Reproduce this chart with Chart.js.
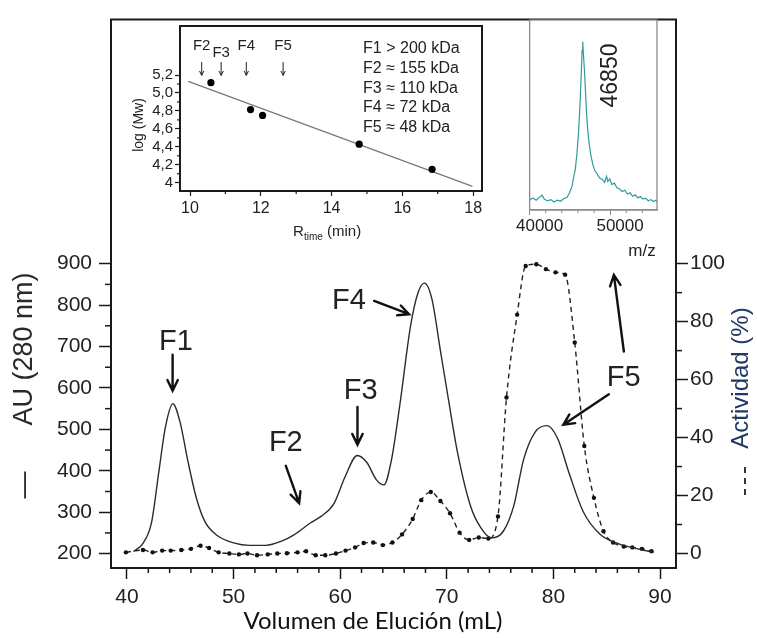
<!DOCTYPE html>
<html>
<head>
<meta charset="utf-8">
<script src="https://cdn.jsdelivr.net/npm/chart.js@4.4.0/dist/chart.umd.min.js"></script>
<style>
  html, body { margin: 0; padding: 0; background: #fff; }
  #wrap { position: relative; width: 757px; height: 638px; }
  canvas { position: absolute; }
  #main { left: 0; top: 0; }
  #cal { left: 120px; top: 15px; }
  #ms { left: 505px; top: 10px; }
</style>
</head>
<body>
<div id="wrap">
  <canvas id="main" width="757" height="638"></canvas>
  <canvas id="cal" width="370" height="230"></canvas>
  <canvas id="ms" width="170" height="255"></canvas>
</div>
<script>
// ---- elution profile (main chart) ----
const volAU = [40.6, 41.5, 42.3, 43.0, 43.6, 44.3, 45.0, 45.7, 46.5, 47.3, 48.5, 50.0, 51.5, 53.0, 54.5, 55.7, 57.2, 58.2, 59.4, 60.5,
               61.6, 62.5, 63.4, 64.1, 64.8, 65.6, 66.6, 67.3, 67.9, 68.6, 69.4, 70.2, 71.0, 72.2, 73.2, 74.2, 75.3, 76.3, 77.2, 78.3,
               79.4, 80.4, 81.5, 82.8, 84.4, 86.2, 88.0, 89.4];
const absAU = [205, 225, 275, 400, 505, 562, 515, 425, 335, 278, 243, 226, 220, 220, 230, 246, 274, 290, 320, 388,
               437, 420, 378, 366, 425, 560, 750, 830, 853, 815, 690, 565, 445, 317, 262, 238, 254, 317, 427, 494,
               509, 478, 392, 301, 246, 223, 211, 203];

const volAct = [39.9, 41.5, 42.4, 43.3, 44.1, 45.1, 46.0, 46.9, 47.7, 48.6, 49.6, 50.5, 51.3, 52.2, 53.2, 54.1, 55.0, 56.0, 56.8, 57.7,
                58.6, 59.6, 60.5, 61.4, 62.2, 63.1, 64.0, 64.9, 65.8, 66.8, 67.6, 68.5, 69.4, 70.3, 71.2, 72.1, 73.0, 73.9, 74.8, 75.6,
                76.6, 77.4, 78.4, 79.3, 80.2, 81.1, 82.0, 82.9, 83.8, 84.7, 85.6, 86.6, 87.4, 88.3, 89.2];
const activity = [0.4, 1.2, 0.4, 1.0, 1.0, 1.2, 1.6, 2.7, 1.9, 0.4, 0.0, -0.3, 0.0, -0.6, -0.3, 0.0, 0.1, 0.4, 0.8, -0.6,
                  -0.6, 0.0, 1.0, 2.1, 3.6, 3.8, 2.9, 3.8, 6.6, 11.9, 18.4, 21.2, 18.1, 13.9, 7.2, 4.7, 5.5, 5.2, 12.8, 53.8,
                  82.4, 99.2, 99.8, 98.1, 97.0, 96.2, 72.8, 37.1, 19.2, 7.7, 3.8, 2.4, 2.1, 1.6, 0.8];

const volTicks = [40, 50, 60, 70, 80, 90];
const volMinor = [42, 44, 46, 48, 52, 54, 56, 58, 62, 64, 66, 68, 72, 74, 76, 78, 82, 84, 86, 88];
const auTicks = [200, 300, 400, 500, 600, 700, 800, 900];
const auMinor = [250, 350, 450, 550, 650, 750, 850];
const actTicks = [0, 20, 40, 60, 80, 100];
const actMinor = [10, 30, 50, 70, 90];

// ---- calibration inset ----
const rtStd = [10.59, 11.71, 12.05, 14.78, 16.84];
const logMwStd = [5.115, 4.815, 4.75, 4.43, 4.15];
const rtFit = [9.95, 17.98];
const logMwFit = [5.13, 3.96];
const rtTicks = [10, 12, 14, 16, 18];
const rtMinor = [11, 13, 15, 17];
const logTicks = [4, 4.2, 4.4, 4.6, 4.8, 5.0, 5.2];
const logMinor = [4.1, 4.3, 4.5, 4.7, 4.9, 5.1];
const fracNames = ['F2', 'F3', 'F4', 'F5'];
const fracRt = [10.33, 10.88, 11.59, 12.63];
const massLines = ['F1 > 200 kDa', 'F2 \u2248 155 kDa', 'F3 \u2248 110 kDa', 'F4 \u2248 72 kDa', 'F5 \u2248 48 kDa'];

// ---- mass spectrum inset ----
const mz = [40000, 40405, 40810, 41215, 41540, 41820, 42230, 42630, 43040, 43440, 43850, 44250, 44660, 44980, 45270, 45470, 45670, 45870,
            46080, 46280, 46440, 46520, 46600, 46680, 46800, 46930, 47090, 47250, 47410, 47610, 47860, 48100, 48380, 48710, 49030,
            49320, 49560, 49720, 49960, 50210, 50530, 50850, 51180, 51500, 51830, 52150, 52470, 52800, 53120, 53450, 53770, 54090,
            54420, 54740, 55070, 55390, 55710, 55800];
const intensity = [6.0, 7.2, 5.8, 7.5, 8.8, 6.5, 5.4, 6.2, 4.8, 5.9, 5.2, 6.8, 7.6, 10.5, 14.0, 19.5, 24.0, 33.0,
                   46.0, 65.0, 84.0, 95.0, 100, 93.0, 84.0, 72.0, 56.0, 46.0, 39.0, 32.5, 27.0, 23.5, 21.5, 19.0, 18.2,
                   16.5, 20.0, 17.0, 18.5, 15.2, 16.0, 13.2, 12.5, 11.0, 11.8, 9.5, 10.2, 8.2, 9.0, 7.2, 8.0, 6.5,
                   7.0, 5.5, 6.2, 5.0, 5.8, 5.2];
const mzTicks = [40000, 50000];
const mzMinor = [42000, 44000, 46000, 48000, 52000, 54000];

const FONT = "'Liberation Sans', Arial, sans-serif";
const INK = '#1a1a1a';

function pts(xs, ys) { return xs.map((x, i) => ({ x: x, y: ys[i] })); }

function drawMinor(ctx, scale, values, len, side, color, width) {
    ctx.save();
    ctx.strokeStyle = color;
    ctx.lineWidth = width;
    values.forEach(v => {
        const p = scale.getPixelForValue(v);
        ctx.beginPath();
        if (side === 'bottom') { ctx.moveTo(p, scale.top); ctx.lineTo(p, scale.top + len); }
        else if (side === 'left') { ctx.moveTo(scale.right, p); ctx.lineTo(scale.right - len, p); }
        else { ctx.moveTo(scale.left, p); ctx.lineTo(scale.left + len, p); }
        ctx.stroke();
    });
    ctx.restore();
}

function arrow(ctx, x1, y1, x2, y2, head, spread) {
    const a = Math.atan2(y2 - y1, x2 - x1);
    ctx.beginPath();
    ctx.moveTo(x1, y1);
    ctx.lineTo(x2, y2);
    ctx.moveTo(x2 - head * Math.cos(a - spread), y2 - head * Math.sin(a - spread));
    ctx.lineTo(x2, y2);
    ctx.lineTo(x2 - head * Math.cos(a + spread), y2 - head * Math.sin(a + spread));
    ctx.stroke();
}

function rotText(ctx, txt, x, y, font, color) {
    ctx.save();
    ctx.translate(x, y);
    ctx.rotate(-Math.PI / 2);
    ctx.font = font;
    ctx.fillStyle = color;
    ctx.textAlign = 'center';
    ctx.textBaseline = 'middle';
    ctx.fillText(txt, 0, 0);
    ctx.restore();
}

function fixedTicks(list) { return s => { s.ticks = list.map(v => ({ value: v })); }; }

// annotations of the main chart, in data units (mL, AU)
const mainNotes = {
    labels: [['F1', 44.59, 710], ['F2', 54.9, 467], ['F3', 61.93, 593], ['F4', 60.83, 810], ['F5', 86.6, 625]],
    arrows: [[44.28, 680, 44.28, 593], [54.9, 412, 56.15, 322], [61.62, 554, 61.62, 463],
             [63.18, 810, 66.46, 778], [85.2, 585, 80.93, 511], [86.61, 688, 85.67, 873]]
};

const mainDeco = {
    id: 'mainDeco',
    afterDraw(chart) {
        const { ctx, chartArea: ca, scales } = chart;
        ctx.save();
        // top frame
        ctx.strokeStyle = INK;
        ctx.lineWidth = 2;
        ctx.beginPath();
        ctx.moveTo(ca.left - 1, ca.top);
        ctx.lineTo(ca.right + 1, ca.top);
        ctx.stroke();

        drawMinor(ctx, scales.x, volMinor, 5, 'bottom', INK, 1.5);
        drawMinor(ctx, scales.y, auMinor, 6, 'left', INK, 1.5);
        drawMinor(ctx, scales.y2, actMinor, 6, 'right', INK, 1.5);

        // peak labels and arrows
        const X = v => scales.x.getPixelForValue(v);
        const Y = v => scales.y.getPixelForValue(v);
        ctx.fillStyle = '#222';
        ctx.font = '29px ' + FONT;
        ctx.textAlign = 'center';
        ctx.textBaseline = 'middle';
        mainNotes.labels.forEach(l => ctx.fillText(l[0], X(l[1]), Y(l[2])));
        ctx.strokeStyle = '#111';
        ctx.lineWidth = 2.4;
        ctx.lineCap = 'round';
        mainNotes.arrows.forEach(a => arrow(ctx, X(a[0]), Y(a[1]), X(a[2]), Y(a[3]), 12, 0.45));

        // axis titles
        rotText(ctx, 'AU (280 nm)', 25, 349, '27px ' + FONT, '#2a2a2a');
        rotText(ctx, '\u2014', 25, 485, '27px ' + FONT, '#2a2a2a');
        rotText(ctx, 'Actividad (%)', 741, 378, '24px ' + FONT, '#1f3864');
        ctx.strokeStyle = '#333';
        ctx.lineWidth = 2;
        ctx.lineCap = 'butt';
        ctx.setLineDash([6, 5]);
        ctx.beginPath();
        ctx.moveTo(745, 467);
        ctx.lineTo(745, 500);
        ctx.stroke();
        ctx.setLineDash([]);

        ctx.font = "24px Lato, 'Open Sans', sans-serif";
        ctx.fillStyle = '#111';
        ctx.textAlign = 'center';
        ctx.textBaseline = 'alphabetic';
        ctx.fillText('Volumen de Elución (mL)', 373, 629);
        ctx.restore();
    }
};

new Chart(document.getElementById('main'), {
    type: 'line',
    data: {
        datasets: [
            {
                label: 'AU (280 nm)',
                data: pts(volAU, absAU),
                yAxisID: 'y',
                borderColor: '#2b2b2b',
                borderWidth: 1.4,
                pointRadius: 0,
                cubicInterpolationMode: 'monotone'
            },
            {
                label: 'Actividad (%)',
                data: pts(volAct, activity),
                yAxisID: 'y2',
                borderColor: '#222',
                borderWidth: 1.4,
                borderDash: [5, 4],
                pointRadius: 2.2,
                pointBorderWidth: 0,
                pointBackgroundColor: '#111',
                cubicInterpolationMode: 'monotone'
            }
        ]
    },
    options: {
        responsive: false,
        animation: false,
        events: [],
        layout: { padding: { top: 7, left: 0, right: 0, bottom: 0 } },
        plugins: { legend: { display: false }, tooltip: { enabled: false } },
        scales: {
            x: {
                type: 'linear', min: 38.5, max: 91.5,
                afterBuildTicks: fixedTicks(volTicks),
                afterFit: s => { s.height = 70; },
                ticks: { font: { family: FONT, size: 21 }, color: '#222', padding: 6, maxRotation: 0, autoSkip: false },
                grid: { drawOnChartArea: false, tickLength: 11, tickWidth: 1.5, tickColor: INK },
                border: { color: INK, width: 2 }
            },
            y: {
                position: 'left', min: 165.3, max: 1489.3,
                afterBuildTicks: fixedTicks(auTicks),
                afterFit: s => { s.width = 111; },
                ticks: { font: { family: FONT, size: 21 }, color: '#222', padding: 7, autoSkip: false },
                grid: { drawOnChartArea: false, tickLength: 12, tickWidth: 1.5, tickColor: INK },
                border: { color: INK, width: 2 }
            },
            y2: {
                position: 'right', min: -5, max: 184.2,
                afterBuildTicks: fixedTicks(actTicks),
                afterFit: s => { s.width = 81; },
                ticks: { font: { family: FONT, size: 21 }, color: '#222', padding: 2, autoSkip: false },
                grid: { drawOnChartArea: false, tickLength: 12, tickWidth: 1.5, tickColor: INK },
                border: { color: INK, width: 2 }
            }
        }
    },
    plugins: [mainDeco]
});

// ---- calibration inset ----
const calDeco = {
    id: 'calDeco',
    beforeDraw(chart) {
        const { ctx, chartArea: ca } = chart;
        ctx.save();
        ctx.fillStyle = '#fff';
        ctx.fillRect(ca.left, ca.top, ca.right - ca.left, ca.bottom - ca.top);
        ctx.restore();
    },
    afterDraw(chart) {
        const { ctx, chartArea: ca, scales } = chart;
        ctx.save();
        ctx.strokeStyle = INK;
        ctx.lineWidth = 2;
        ctx.strokeRect(ca.left, ca.top, ca.right - ca.left, ca.bottom - ca.top);
        drawMinor(ctx, scales.x, rtMinor, 3, 'bottom', INK, 1.2);
        drawMinor(ctx, scales.y, logMinor, 3, 'left', INK, 1.2);

        const X = v => scales.x.getPixelForValue(v);
        const Y = v => scales.y.getPixelForValue(v);
        ctx.font = '15px ' + FONT;
        ctx.fillStyle = '#222';
        ctx.textAlign = 'center';
        ctx.textBaseline = 'middle';
        fracNames.forEach((n, i) => {
            ctx.fillText(n, X(fracRt[i]), Y(n === 'F3' ? 5.45 : 5.52));
        });
        ctx.strokeStyle = '#222';
        ctx.lineWidth = 1;
        fracRt.forEach(r => arrow(ctx, X(r), Y(5.345), X(r), Y(5.195), 5, 0.45));

        ctx.font = '16px ' + FONT;
        ctx.textAlign = 'left';
        massLines.forEach((t, i) => ctx.fillText(t, X(14.89), Y(5.49 - i * 0.218)));

        rotText(ctx, 'log (Mw)', 19, 110, '14px ' + FONT, '#222');
        ctx.font = '15px ' + FONT;
        ctx.textAlign = 'left';
        ctx.textBaseline = 'alphabetic';
        ctx.fillText('R', 173, 221);
        ctx.font = '10px ' + FONT;
        ctx.fillText('time', 184, 225);
        ctx.font = '15px ' + FONT;
        ctx.fillText('(min)', 207, 221);
        ctx.restore();
    }
};

new Chart(document.getElementById('cal'), {
    type: 'scatter',
    data: {
        datasets: [
            {
                data: pts(rtStd, logMwStd),
                pointRadius: 3.6,
                pointBackgroundColor: '#000',
                pointBorderWidth: 0
            },
            {
                type: 'line',
                data: pts(rtFit, logMwFit),
                borderColor: '#7a7a7a',
                borderWidth: 1.4,
                pointRadius: 0
            }
        ]
    },
    options: {
        responsive: false,
        animation: false,
        events: [],
        layout: { padding: { top: 10, right: 8, left: 0, bottom: 0 } },
        plugins: { legend: { display: false }, tooltip: { enabled: false } },
        scales: {
            x: {
                type: 'linear', min: 9.717, max: 18.25,
                afterBuildTicks: fixedTicks(rtTicks),
                afterFit: s => { s.height = 54; },
                ticks: { font: { family: FONT, size: 16 }, color: '#222', padding: 3, maxRotation: 0 },
                grid: { drawOnChartArea: false, tickLength: 5, tickWidth: 1.2, tickColor: INK },
                border: { color: INK, width: 2 }
            },
            y: {
                min: 3.908, max: 5.746,
                afterBuildTicks: fixedTicks(logTicks),
                afterFit: s => { s.width = 60; },
                ticks: {
                    font: { family: FONT, size: 15 }, color: '#222', padding: 2,
                    callback: v => v === 4 ? '4' : v.toFixed(1).replace('.', ',')
                },
                grid: { drawOnChartArea: false, tickLength: 5, tickWidth: 1.2, tickColor: INK },
                border: { color: INK, width: 2 }
            }
        }
    },
    plugins: [calDeco]
});

// ---- mass spectrum inset ----
const msDeco = {
    id: 'msDeco',
    beforeDraw(chart) {
        const { ctx, chartArea: ca } = chart;
        ctx.save();
        ctx.fillStyle = '#fff';
        ctx.fillRect(ca.left, ca.top, ca.right - ca.left, ca.bottom - ca.top);
        ctx.restore();
    },
    afterDraw(chart) {
        const { ctx, chartArea: ca, scales } = chart;
        ctx.save();
        ctx.strokeStyle = '#8a8a8a';
        ctx.lineWidth = 1.3;
        ctx.strokeRect(ca.left, ca.top, ca.right - ca.left, ca.bottom - ca.top);
        drawMinor(ctx, scales.x, mzMinor, 3, 'bottom', '#8a8a8a', 1);
        rotText(ctx, '46850', scales.x.getPixelForValue(50100), scales.y.getPixelForValue(80), '23px ' + FONT, '#222');
        ctx.font = '17px ' + FONT;
        ctx.fillStyle = '#222';
        ctx.textAlign = 'center';
        ctx.textBaseline = 'middle';
        ctx.fillText('m/z', 137, 241);
        ctx.restore();
    }
};

new Chart(document.getElementById('ms'), {
    type: 'line',
    data: {
        datasets: [{
            data: pts(mz, intensity),
            borderColor: '#2e9c98',
            borderWidth: 1.2,
            pointRadius: 0,
            tension: 0
        }]
    },
    options: {
        responsive: false,
        animation: false,
        events: [],
        layout: { padding: { top: 10, right: 18, left: 22, bottom: 0 } },
        plugins: { legend: { display: false }, tooltip: { enabled: false } },
        scales: {
            x: {
                type: 'linear', min: 40000, max: 55830,
                afterBuildTicks: fixedTicks(mzTicks),
                afterFit: s => { s.height = 55; },
                ticks: {
                    font: { family: FONT, size: 17 }, color: '#222', padding: 1, labelOffset: 10, maxRotation: 0,
                    callback: v => String(v)
                },
                grid: { drawOnChartArea: false, tickLength: 5, tickWidth: 1, tickColor: '#8a8a8a' },
                border: { color: '#8a8a8a', width: 1.3 }
            },
            y: { display: false, min: 0, max: 113 }
        }
    },
    plugins: [msDeco]
});
</script>
</body>
</html>
